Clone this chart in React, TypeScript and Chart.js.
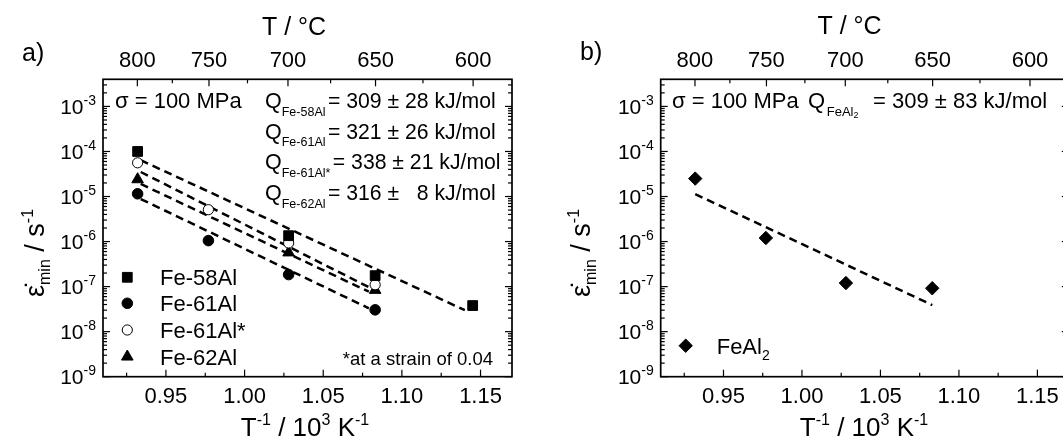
import React, { useEffect, useRef } from 'react';
import { Chart, registerables } from 'chart.js';

Chart.register(...registerables);

const FONT_FAMILY = '"Liberation Sans", Arial, Helvetica, sans-serif';

// ---------- axes ----------
const X_MIN = 0.91;
const X_MAX = 1.17;
const Y_MIN = 1e-9;
const Y_MAX = 4e-3;
const bottomTicks = [0.95, 1.0, 1.05, 1.1, 1.15];
const bottomMinorTicks = [0.925, 0.975, 1.025, 1.075, 1.125];
const topTicksC = [800, 750, 700, 650, 600];
const topMinorTicksC = [775, 725, 675, 625];
const yDecades = [-9, -8, -7, -6, -5, -4, -3];

// ---------- panel a data (x = 1000/T in 1/K) ----------
const fe58AlX = [0.932, 1.028, 1.083, 1.145];
const fe58AlY = [1.0e-4, 1.35e-6, 1.75e-7, 3.8e-8];
const fe61AlX = [0.932, 0.977, 1.028, 1.083];
const fe61AlY = [1.15e-5, 1.05e-6, 1.85e-7, 3.05e-8];
const fe61AlStarX = [0.932, 0.977, 1.028, 1.083];
const fe61AlStarY = [5.6e-5, 5.1e-6, 9.3e-7, 1.1e-7];
const fe62AlX = [0.932, 1.028, 1.083];
const fe62AlY = [2.4e-5, 5.7e-7, 8.4e-8];

const fit58X = [0.934, 1.14];
const fit58Y = [6.4e-5, 3.0e-8];
const fit61X = [0.934, 1.079];
const fit61Y = [8.8e-6, 3.3e-8];
const fit61StarX = [0.934, 1.079];
const fit61StarY = [3.5e-5, 9.7e-8];
const fit62X = [0.934, 1.079];
const fit62Y = [1.9e-5, 7.7e-8];

const legendLabelsA = ['Fe-58Al', 'Fe-61Al', 'Fe-61Al*', 'Fe-62Al'];
const qSubsA = ['Fe-58Al', 'Fe-61Al', 'Fe-61Al*', 'Fe-62Al'];
const qTextsA = ['= 309 \u00B1 28 kJ/mol', '= 321 \u00B1 26 kJ/mol', '= 338 \u00B1 21 kJ/mol', '= 316 \u00B1   8 kJ/mol'];

// ---------- panel b data ----------
const feAl2X = [0.932, 0.977, 1.028, 1.083];
const feAl2Y = [2.5e-5, 1.2e-6, 1.2e-7, 9.2e-8];
const fitFeAl2X = [0.932, 1.083];
const fitFeAl2Y = [1.13e-5, 3.9e-8];

// ---------- helpers ----------
const pts = (xs: number[], ys: number[]) => xs.map((x, i) => ({ x, y: ys[i] }));
const f = (px: number) => `${px}px ${FONT_FAMILY}`;

type Seg = { t: string; size: number; dy?: number };

function drawRich(ctx: CanvasRenderingContext2D, segs: Seg[], x: number, y: number, align: 'left' | 'center' | 'right') {
  let total = 0;
  const widths = segs.map((s) => {
    ctx.font = f(s.size);
    const w = ctx.measureText(s.t).width;
    total += w;
    return w;
  });
  let cx = align === 'left' ? x : align === 'center' ? x - total / 2 : x - total;
  ctx.textAlign = 'left';
  ctx.textBaseline = 'alphabetic';
  segs.forEach((s, i) => {
    ctx.font = f(s.size);
    ctx.fillText(s.t, cx, y + (s.dy || 0));
    cx += widths[i];
  });
  return cx;
}

function drawMarker(ctx: CanvasRenderingContext2D, style: string, x: number, y: number, r: number, fill: string) {
  ctx.beginPath();
  if (style === 'circle') ctx.arc(x, y, r, 0, Math.PI * 2);
  else if (style === 'rect') {
    const s = r * Math.SQRT1_2;
    ctx.rect(x - s, y - s, 2 * s, 2 * s);
  } else if (style === 'triangle') {
    const a = (2 * Math.PI) / 3;
    ctx.moveTo(x, y - r);
    ctx.lineTo(x + r * Math.sin(a), y - r * Math.cos(a));
    ctx.lineTo(x + r * Math.sin(2 * a), y - r * Math.cos(2 * a));
    ctx.closePath();
  } else if (style === 'rectRot') {
    ctx.moveTo(x - r, y);
    ctx.lineTo(x, y - r);
    ctx.lineTo(x + r, y);
    ctx.lineTo(x, y + r);
    ctx.closePath();
  }
  ctx.fillStyle = fill;
  ctx.fill();
  ctx.lineWidth = 1;
  ctx.strokeStyle = '#000';
  ctx.stroke();
}

const markerA = [
  { style: 'rect', r: 6.9, fill: '#000' },
  { style: 'circle', r: 5.3, fill: '#000' },
  { style: 'circle', r: 5.1, fill: '#fff' },
  { style: 'triangle', r: 6.7, fill: '#000' },
];
const markerB = { style: 'rectRot', r: 6.7, fill: '#000' };

const dashed = (data: { x: number; y: number }[]) => ({
  data,
  showLine: true,
  borderColor: '#000',
  borderWidth: 2.5,
  borderDash: [8, 5],
  pointRadius: 0,
  fill: false,
  tension: 0,
});
const markers = (data: { x: number; y: number }[], m: { style: string; r: number; fill: string }) => ({
  data,
  showLine: false,
  pointStyle: m.style,
  pointRadius: m.r,
  backgroundColor: m.fill,
  borderColor: '#000',
  borderWidth: 1,
});

// ---------- layout (page coordinates) ----------
const PLOT_TOP = 79.3;
const PLOT_BOTTOM = 376.7;
const H = 439;

type Spec = {
  id: string;
  canvasLeft: number;
  canvasWidth: number;
  plotLeft: number;
  plotRight: number;
  datasets: any[];
  decorate: (ctx: CanvasRenderingContext2D) => void;
};

function drawYTitle(ctx: CanvasRenderingContext2D, xBase: number, yCenter: number) {
  ctx.save();
  ctx.translate(xBase, yCenter);
  ctx.rotate(-Math.PI / 2);
  drawRich(
    ctx,
    [
      { t: '\u03B5\u0307', size: 27 },
      { t: 'min', size: 16, dy: 6 },
      { t: ' / s', size: 27 },
      { t: '-1', size: 16, dy: -11 },
    ],
    0,
    0,
    'center'
  );
  ctx.restore();
}

function drawBottomTitle(ctx: CanvasRenderingContext2D, xc: number, y: number) {
  drawRich(
    ctx,
    [
      { t: 'T', size: 26 },
      { t: '-1', size: 16, dy: -11 },
      { t: ' / 10', size: 26 },
      { t: '3', size: 16, dy: -11 },
      { t: ' K', size: 26 },
      { t: '-1', size: 16, dy: -11 },
    ],
    xc,
    y,
    'center'
  );
}

const panelA: Spec = {
  id: 'a',
  canvasLeft: 0,
  canvasWidth: 540,
  plotLeft: 103,
  plotRight: 512,
  datasets: [
    markers(pts(fe58AlX, fe58AlY), markerA[0]),
    markers(pts(fe61AlX, fe61AlY), markerA[1]),
    markers(pts(fe61AlStarX, fe61AlStarY), markerA[2]),
    markers(pts(fe62AlX, fe62AlY), markerA[3]),
    dashed(pts(fit58X, fit58Y)),
    dashed(pts(fit61X, fit61Y)),
    dashed(pts(fit61StarX, fit61StarY)),
    dashed(pts(fit62X, fit62Y)),
  ],
  decorate: (ctx) => {
    drawRich(ctx, [{ t: 'a)', size: 25 }], 22, 61, 'left');
    drawRich(ctx, [{ t: 'T / \u00B0C', size: 25 }], 294, 35, 'center');
    drawBottomTitle(ctx, 305, 436);
    drawYTitle(ctx, 44, 253);
    drawRich(ctx, [{ t: '\u03C3 = 100 MPa', size: 22 }], 115, 108, 'left');
    const qRows = [108.3, 138.6, 169.3, 200];
    qSubsA.forEach((sub, i) => {
      const end = drawRich(ctx, [{ t: 'Q', size: 21.5 }, { t: sub, size: 12.5, dy: 7.5 }], 265, qRows[i], 'left');
      drawRich(ctx, [{ t: qTextsA[i], size: 21.2 }], end + 2.5, qRows[i], 'left');
    });
    const legY = [277.3, 303.3, 330, 356.7];
    legendLabelsA.forEach((lab, i) => {
      const m = markerA[i];
      drawMarker(ctx, m.style, 127.3, legY[i], m.r, m.fill);
      ctx.fillStyle = '#000';
      drawRich(ctx, [{ t: lab, size: 22 }], 160, legY[i] + 7.8, 'left');
    });
    drawRich(ctx, [{ t: '*at a strain of 0.04', size: 18.5 }], 493, 365, 'right');
  },
};

const panelB: Spec = {
  id: 'b',
  canvasLeft: 540,
  canvasWidth: 560,
  plotLeft: 660.7,
  plotRight: 1068.8,
  datasets: [markers(pts(feAl2X, feAl2Y), markerB), dashed(pts(fitFeAl2X, fitFeAl2Y))],
  decorate: (ctx) => {
    drawRich(ctx, [{ t: 'b)', size: 25 }], 580, 60, 'left');
    drawRich(ctx, [{ t: 'T / \u00B0C', size: 25 }], 849.5, 34, 'center');
    drawBottomTitle(ctx, 864, 436);
    drawYTitle(ctx, 590, 253);
    drawRich(ctx, [{ t: '\u03C3 = 100 MPa', size: 22 }], 672, 108, 'left');
    drawRich(
      ctx,
      [
        { t: 'Q', size: 22 },
        { t: ' ', size: 6 },
        { t: 'FeAl', size: 13, dy: 7.5 },
        { t: '2', size: 9, dy: 9.5 },
      ],
      808,
      108,
      'left'
    );
    drawRich(ctx, [{ t: '= 309 \u00B1 83 kJ/mol', size: 22 }], 873, 108, 'left');
    drawMarker(ctx, markerB.style, 685.7, 345.7, markerB.r, markerB.fill);
    ctx.fillStyle = '#000';
    drawRich(
      ctx,
      [
        { t: 'FeAl', size: 22 },
        { t: '2', size: 14, dy: 6 },
      ],
      716.7,
      353.5,
      'left'
    );
  },
};

function makePlugin(spec: Spec) {
  return {
    id: 'decor-' + spec.id,
    afterDraw(chart: any) {
      const ctx: CanvasRenderingContext2D = chart.ctx;
      const { left, right, top, bottom } = chart.chartArea;
      const xs = chart.scales.x;
      const ys = chart.scales.y;
      const MAJOR = 7;
      const MINOR = 4;
      ctx.save();
      ctx.strokeStyle = '#000';
      ctx.fillStyle = '#000';
      const line = (x1: number, y1: number, x2: number, y2: number) => {
        ctx.beginPath();
        ctx.moveTo(x1, y1);
        ctx.lineTo(x2, y2);
        ctx.stroke();
      };
      ctx.lineWidth = 1.2;
      bottomTicks.forEach((v) => {
        const px = xs.getPixelForValue(v);
        line(px, bottom, px, bottom - MAJOR);
      });
      bottomMinorTicks.forEach((v) => {
        const px = xs.getPixelForValue(v);
        line(px, bottom, px, bottom - MINOR);
      });
      topTicksC.forEach((c) => {
        const px = xs.getPixelForValue(1000 / (c + 273.15));
        line(px, top, px, top + MAJOR);
      });
      topMinorTicksC.forEach((c) => {
        const px = xs.getPixelForValue(1000 / (c + 273.15));
        line(px, top, px, top + MINOR);
      });
      yDecades.forEach((e) => {
        for (let m = 1; m <= 9; m++) {
          const v = m * Math.pow(10, e);
          if (v >= Y_MAX * 0.999) break;
          const py = ys.getPixelForValue(v);
          const len = m === 1 ? MAJOR : MINOR;
          line(left, py, left + len, py);
          line(right, py, right - len, py);
        }
      });
      ctx.lineWidth = 1.7;
      ctx.strokeRect(left, top, right - left, bottom - top);

      // tick labels
      ctx.fillStyle = '#000';
      ctx.textAlign = 'center';
      ctx.textBaseline = 'alphabetic';
      ctx.font = f(22);
      bottomTicks.forEach((v) => {
        ctx.fillText(v.toFixed(2), xs.getPixelForValue(v), bottom + 26.5);
      });
      topTicksC.forEach((c) => {
        ctx.fillText(String(c), xs.getPixelForValue(1000 / (c + 273.15)), top - 12);
      });
      yDecades.forEach((e) => {
        const py = ys.getPixelForValue(Math.pow(10, e));
        drawRich(
          ctx,
          [
            { t: '10', size: 21, dy: 7.5 },
            { t: '-' + String(-e), size: 14, dy: -1.5 },
          ],
          left - 7,
          py,
          'right'
        );
      });

      ctx.translate(-spec.canvasLeft, 0);
      spec.decorate(ctx);
      ctx.restore();
    },
  };
}

function Panel({ spec }: { spec: Spec }) {
  const ref = useRef<HTMLCanvasElement>(null);
  useEffect(() => {
    const canvas = ref.current!;
    const chart = new Chart(canvas, {
      type: 'scatter',
      data: { datasets: spec.datasets },
      options: {
        animation: false,
        responsive: false,
        devicePixelRatio: 1,
        events: [],
        layout: {
          autoPadding: false,
          padding: {
            left: spec.plotLeft - spec.canvasLeft,
            right: spec.canvasLeft + spec.canvasWidth - spec.plotRight,
            top: PLOT_TOP,
            bottom: H - PLOT_BOTTOM,
          },
        },
        plugins: {
          legend: { display: false },
          tooltip: { enabled: false },
          title: { display: false },
        },
        scales: {
          x: { type: 'linear', min: X_MIN, max: X_MAX, display: false },
          y: { type: 'logarithmic', min: Y_MIN, max: Y_MAX, display: false },
        },
      } as any,
      plugins: [makePlugin(spec)],
    });
    return () => chart.destroy();
  }, [spec]);
  return (
    <canvas
      ref={ref}
      width={spec.canvasWidth}
      height={H}
      style={{ position: 'absolute', left: spec.canvasLeft, top: 0, width: spec.canvasWidth, height: H }}
    />
  );
}

export default function App() {
  return (
    <div
      style={{
        position: 'fixed',
        left: 0,
        top: 0,
        width: 1063,
        height: H,
        overflow: 'hidden',
        background: '#fff',
      }}
    >
      <Panel spec={panelA} />
      <Panel spec={panelB} />
    </div>
  );
}
